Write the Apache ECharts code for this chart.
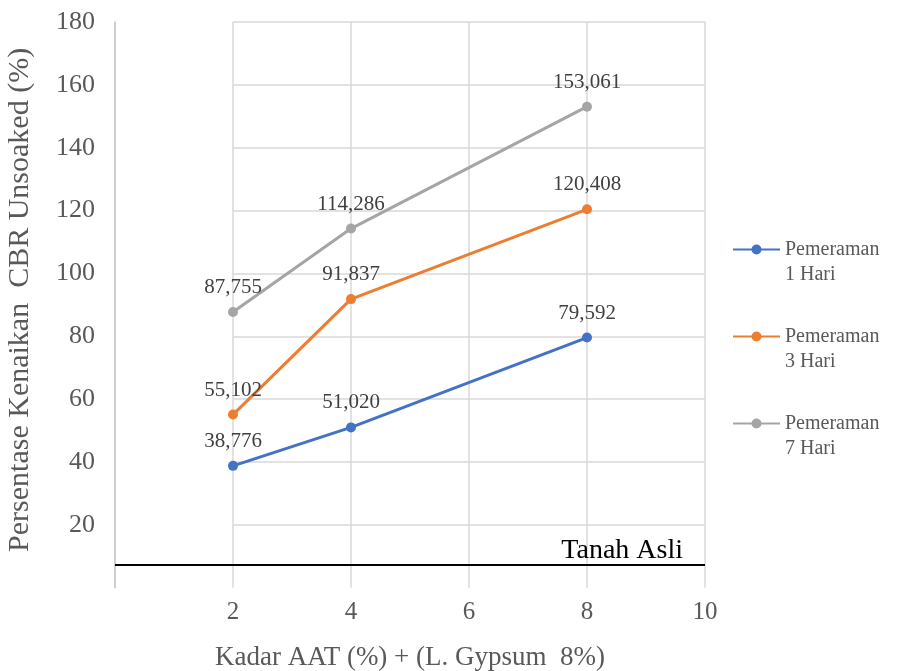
<!DOCTYPE html>
<html>
<head>
<meta charset="utf-8">
<script src="https://cdn.jsdelivr.net/npm/echarts@6/dist/echarts.min.js"></script>
<style>html,body{margin:0;padding:0;background:#fff}#c{width:897px;height:671px}</style>
</head>
<body>
<div id="c"></div>
<script>
const xValues = [2, 4, 8];
const hari1 = [38.776, 51.020, 79.592];
const hari3 = [55.102, 91.837, 120.408];
const hari7 = [87.755, 114.286, 153.061];
const seriesNames = ['Pemeraman\n1 Hari', 'Pemeraman\n3 Hari', 'Pemeraman\n7 Hari'];
const tanahAsli = 7.25;
const xTicks = [0, 2, 4, 6, 8, 10];
const yTicks = [0, 20, 40, 60, 80, 100, 120, 140, 160, 180];

const FONT = '"Liberation Serif", "Times New Roman", serif';
const colors = ['#4472C4', '#ED7D31', '#A5A5A5'];
const pair = (ys) => xValues.map((x, i) => [x, ys[i]]);
const fmt = (p) => p.value[1].toFixed(3).replace('.', ',');

function mk(name, data, color, extra) {
  return Object.assign({
    name: name, type: 'line', data: pair(data),
    xAxisIndex: 0, yAxisIndex: 0,
    symbol: 'circle', symbolSize: 10,
    lineStyle: { color: color, width: 3 },
    itemStyle: { color: color },
    label: { show: true, position: 'top', distance: 9, formatter: fmt,
      fontFamily: FONT, fontSize: 21, color: '#404040' }
  }, extra || {});
}

const chart = echarts.init(document.getElementById('c'));
chart.setOption({
  animation: false,
  color: colors,
  grid: [
    { left: 115, right: 192, top: 22, bottom: 83.25, containLabel: false, outerBoundsMode: 'none' },
    { left: 233, right: 192, top: 22, bottom: 83.25, containLabel: false, outerBoundsMode: 'none' }
  ],
  xAxis: [
    { type: 'value', gridIndex: 0, min: xTicks[0], max: xTicks[xTicks.length - 1], interval: 2,
      axisLine: { show: false }, axisTick: { show: false },
      splitLine: { show: true, showMinLine: false, lineStyle: { color: '#D9D9D9', width: 1.5 } },
      axisLabel: { margin: 12, fontFamily: FONT, fontSize: 25, color: '#595959',
        formatter: (v) => v === 0 ? '' : String(v) },
      name: 'Kadar AAT (%) + (L. Gypsum  8%)', nameLocation: 'middle', nameGap: 57,
      nameTextStyle: { fontFamily: FONT, fontSize: 27, color: '#595959' } },
    { type: 'value', gridIndex: 1, min: 0, max: 1, show: false }
  ],
  yAxis: [
    { type: 'value', gridIndex: 0, min: yTicks[0], max: yTicks[yTicks.length - 1], interval: 20,
      axisLine: { show: true, lineStyle: { color: '#BFBFBF', width: 1.5 } },
      axisTick: { show: false }, splitLine: { show: false },
      axisLabel: { margin: 20, fontFamily: FONT, fontSize: 26, color: '#595959',
        formatter: (v) => v === 0 ? '' : String(v) },
      name: 'Persentase Kenaikan  CBR Unsoaked (%)', nameLocation: 'middle', nameGap: 80,
      nameTextStyle: { fontFamily: FONT, fontSize: 30, color: '#595959', padding: [0, 0, 0, 10] } },
    { type: 'value', gridIndex: 1, min: yTicks[0], max: yTicks[yTicks.length - 1], interval: 20,
      axisLine: { show: false }, axisTick: { show: false }, axisLabel: { show: false },
      splitLine: { show: true, showMinLine: false, lineStyle: { color: '#D9D9D9', width: 1.5 } } }
  ],
  legend: {
    orient: 'vertical', left: 733, top: 212, padding: 0, itemWidth: 47, itemHeight: 10, itemGap: 12,
    icon: 'path://M0,4 L47,4 L47,6 L0,6 Z M18.5,5 A5,5 0 1 1 28.5,5 A5,5 0 1 1 18.5,5 Z',
    data: seriesNames,
    formatter: (n) => '\n' + n,
    textStyle: { fontFamily: FONT, fontSize: 20, lineHeight: 25, color: '#595959' }
  },
  series: [
    mk(seriesNames[0], hari1, colors[0], {
      markLine: { silent: true, symbol: 'none', animation: false,
        lineStyle: { color: '#000000', width: 2, type: 'solid' },
        label: { show: true, position: 'insideEndTop', formatter: 'Tanah Asli', distance: [22, 0],
          fontFamily: FONT, fontSize: 28, color: '#000000' },
        data: [{ yAxis: tanahAsli }] } }),
    mk(seriesNames[1], hari3, colors[1]),
    mk(seriesNames[2], hari7, colors[2])
  ]
});
</script>
</body>
</html>
